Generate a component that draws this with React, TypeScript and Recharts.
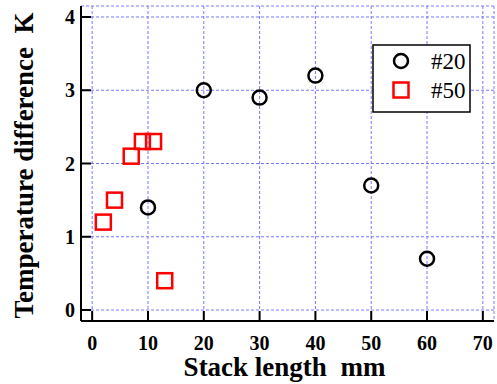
import React from "react";
import { ScatterChart, Scatter, XAxis, YAxis, CartesianGrid } from "recharts";

const s20X = [10, 20, 30, 40, 50, 60];
const s20Y = [1.4, 3.0, 2.9, 3.2, 1.7, 0.7];
const s50X = [2, 4, 7, 9, 11, 13];
const s50Y = [1.2, 1.5, 2.1, 2.3, 2.3, 0.4];
const xTicks = [0, 10, 20, 30, 40, 50, 60, 70];
const yTicks = [0, 1, 2, 3, 4];
const seriesNames = ["#20", "#50"];

const d20 = s20X.map((x, i) => ({ x, y: s20Y[i] }));
const d50 = s50X.map((x, i) => ({ x, y: s50Y[i] }));

const FONT = "Liberation Serif, Times New Roman, serif";

const Circ = (p: any) => (
  <circle cx={p.cx} cy={p.cy} r={7} fill="none" stroke="#000" strokeWidth={2.5} />
);
const Sq = (p: any) => (
  <rect x={p.cx - 7.5} y={p.cy - 7.5} width={15} height={15} fill="none" stroke="#ff0000" strokeWidth={2.5} />
);

const LegendBox = () => (
  <svg width={99} height={69} style={{ display: "block" }}>
    <rect x={1} y={1} width={97} height={67} fill="#fff" stroke="#000" strokeWidth={1.5} />
    <circle cx={29} cy={17} r={7} fill="none" stroke="#000" strokeWidth={2.5} />
    <text x={59} y={25} fontFamily={FONT} fontSize={23} fill="#000">{seriesNames[0]}</text>
    <rect x={21.5} y={38.5} width={15} height={15} fill="none" stroke="#ff0000" strokeWidth={2.5} />
    <text x={59} y={54} fontFamily={FONT} fontSize={23} fill="#000">{seriesNames[1]}</text>
  </svg>
);

export default function App() {
  const tickStyle = { fontFamily: FONT, fontSize: 20, fontWeight: "bold", fill: "#000" };
  return (
    <div style={{ position: "absolute", left: 0, top: 0, width: 497, height: 384, fontFamily: FONT }}>
      <ScatterChart width={497} height={384} margin={{ top: 6, right: 3, left: 0, bottom: 0 }}>
        <CartesianGrid stroke="#7878ff" strokeDasharray="3 2" strokeWidth={1} />
        <XAxis
          type="number"
          dataKey="x"
          domain={[-2, 72]}
          ticks={xTicks}
          allowDataOverflow
          height={63}
          tickSize={-10}
          tickMargin={25}
          tick={tickStyle}
          axisLine={{ stroke: "#000", strokeWidth: 2 }}
          tickLine={{ stroke: "#000", strokeWidth: 2 }}
          label={(props: any) => {
            const vb = props.viewBox || {};
            return (
              <text x={(vb.x ?? 81) + (vb.width ?? 413) / 2 - 3} y={376} textAnchor="middle" fontFamily={FONT} fontSize={27} fontWeight="bold" fill="#000">
                Stack length{"\u00a0\u00a0"}mm
              </text>
            );
          }}
        />
        <XAxis xAxisId="top" orientation="top" type="number" dataKey="x" domain={[-2, 72]} height={0} tick={false} tickLine={false} axisLine={{ stroke: "#000", strokeWidth: 2 }} />
        <YAxis
          type="number"
          dataKey="y"
          domain={[-0.15, 4.15]}
          ticks={yTicks}
          allowDataOverflow
          width={81}
          tickSize={-10}
          tickMargin={16}
          tick={tickStyle}
          axisLine={{ stroke: "#000", strokeWidth: 2 }}
          tickLine={{ stroke: "#000", strokeWidth: 2 }}
          label={(props: any) => {
            const vb = props.viewBox || {};
            const cy = (vb.y ?? 6) + (vb.height ?? 315) / 2 + 2;
            return (
              <text x={24} y={cy} transform={`rotate(-90 24 ${cy})`} textAnchor="middle" dominantBaseline="central" fontFamily={FONT} fontSize={27} fontWeight="bold" fill="#000">
                Temperature difference{"\u00a0\u00a0"}K
              </text>
            );
          }}
        />
        <YAxis yAxisId="right" orientation="right" type="number" dataKey="y" domain={[-0.15, 4.15]} width={0} tick={false} tickLine={false} axisLine={{ stroke: "#000", strokeWidth: 2 }} />
        <Scatter name={seriesNames[0]} data={d20} shape={Circ} isAnimationActive={false} />
        <Scatter name={seriesNames[1]} data={d50} shape={Sq} isAnimationActive={false} />
      </ScatterChart>
      <div style={{ position: "absolute", left: 372, top: 44, width: 99, height: 69 }}>
        <LegendBox />
      </div>
    </div>
  );
}
